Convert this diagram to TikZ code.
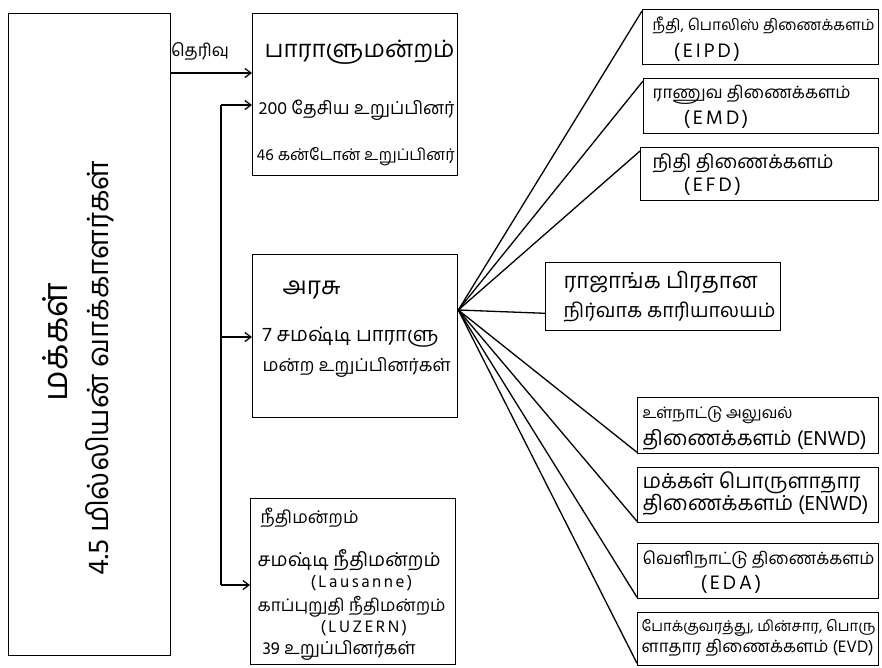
\documentclass[tikz,border=0pt]{standalone}
\usepackage{fontspec}
\setmainfont{Liberation Sans}
\newfontfamily\tam[Script=Tamil]{Hind Madurai}
\newfontfamily\tamcode[Script=Tamil,LetterSpace=15]{Hind Madurai}
\usetikzlibrary{arrows.meta}
% set text at the font size that gives it the wanted width (capped at #1)
\newcommand\tw[3][40]{\setbox0\hbox{\fontsize{10}{12}\selectfont #3}%
  \pgfmathsetmacro\fsz{min(#1,10*#2/\wd0)}%
  {\fontsize{\fsz}{\fsz}\selectfont #3}}
\begin{document}
\begin{tikzpicture}[x=1pt,y=-1pt, line width=1.3pt,
 box/.style={draw, rectangle, inner sep=0pt, anchor=north west},
 txt/.style={inner sep=0pt, anchor=west, font=\tam},
 code/.style={inner sep=0pt, anchor=west, font=\tamcode\fontsize{20}{20}\selectfont},
 codeb/.style={inner sep=0pt, anchor=west, font=\tamcode\fontsize{17}{17}\selectfont},
 btxt/.style={inner sep=0pt, rotate=90, font=\tam},
 arr/.style={-{Straight Barb[length=6pt,width=9pt]}},
]
\useasboundingbox (0,0) rectangle (882,667);
\fill[white] (0,0) rectangle (882,667);

% left box
\node[box, minimum width=162pt, minimum height=642pt] (people) at (8,13) {};
\node[btxt] (peopleA) at (55,342) {\tw{118}{மக்கள்}};
\node[btxt] (peopleB) at (100,368) {\tw{415}{4.5 மில்லியன் வாக்காளர்கள்}};

% middle boxes
\node[box, minimum width=205pt, minimum height=162pt] (parl) at (252,13) {};
\node[box, minimum width=205pt, minimum height=163pt] (gov) at (252,254) {};
\node[box, minimum width=205pt, minimum height=166pt] (court) at (250,498) {};

\node[txt] (parlA) at (264,52) {\tw{190}{பாராளுமன்றம்}};
\node[txt] (parlB) at (258,110) {\tw{196}{200 தேசிய உறுப்பினர்}};
\node[txt] (parlC) at (256,157) {\tw{198}{46 கன்டோன் உறுப்பினர்}};

\node[txt] (govA) at (282,290) {\tw{58}{அரசு}};
\node[txt] (govB) at (262,337) {\tw{176}{7 சமஷ்டி பாராளு}};
\node[txt] (govC) at (262,367) {\tw{188}{மன்ற உறுப்பினர்கள்}};

\node[txt] (courtA) at (260,518) {\tw{98}{நீதிமன்றம்}};
\node[txt] (courtB) at (257,560) {\tw{183}{சமஷ்டி நீதிமன்றம்}};
\node[codeb] (courtC) at (310,583) {(Lausanne)};
\node[txt] (courtD) at (257,607) {\tw{188}{காப்புறுதி நீதிமன்றம்}};
\node[codeb] (courtE) at (320,628) {(LUZERN)};
\node[txt] (courtF) at (262,650) {\tw{153}{39 உறுப்பினர்கள்}};

% right boxes
\node[box, minimum width=236pt, minimum height=55pt] (r1) at (642,9) {};
\node[box, minimum width=235pt, minimum height=55pt] (r2) at (643,78) {};
\node[box, minimum width=238pt, minimum height=53pt] (r3) at (640,147) {};
\node[box, minimum width=235pt, minimum height=68pt] (r4) at (545,262) {};
\node[box, minimum width=241pt, minimum height=56pt] (r5) at (637,397) {};
\node[box, minimum width=241pt, minimum height=55pt] (r6) at (637,467) {};
\node[box, minimum width=241pt, minimum height=55pt] (r7) at (637,543) {};
\node[box, minimum width=241pt, minimum height=53pt] (r8) at (637,612) {};

\node[txt] (r1A) at (652,25) {\tw{222}{நீதி, பொலிஸ் திணைக்களம்}};
\node[code] (r1B) at (673,52) {(EIPD)};
\node[txt] (r2A) at (652,95) {\tw{198}{ராணுவ திணைக்களம்}};
\node[code] (r2B) at (683,119) {(EMD)};
\node[txt] (r3A) at (652,163) {\tw{181}{நிதி திணைக்களம்}};
\node[code] (r3B) at (683,186) {(EFD)};
\node[txt] (r4A) at (563,282) {\tw{194}{ராஜாங்க பிரதான}};
\node[txt] (r4B) at (563,312) {\tw{212}{நிர்வாக காரியாலயம்}};
\node[txt] (r5A) at (642,415) {\tw{150}{உள்நாட்டு அலுவல்}};
\node[txt] (r5B) at (642,440) {\tw{224}{திணைக்களம் (ENWD)}};
\node[txt] (r6A) at (642,483) {\tw{218}{மக்கள் பொருளாதார}};
\node[txt] (r6B) at (642,505) {\tw{226}{திணைக்களம் (ENWD)}};
\node[txt] (r7A) at (642,560) {\tw{232}{வெளிநாட்டு திணைக்களம்}};
\node[code] (r7B) at (700,584) {(EDA)};
\node[txt] (r8A) at (641,628) {\tw{234}{போக்குவரத்து, மின்சார, பொரு}};
\node[txt] (r8B) at (641,648) {\tw{232}{ளாதார திணைக்களம் (EVD)}};

% election arrow
\coordinate (e1) at (people.east |- 0,73);
\draw[arr] (e1) -- (e1 -| parl.west);
\node[txt, anchor=center] (elect) at (200,52) {\tw{58}{தெரிவு}};

% bus
\coordinate (b1) at (221,105);
\coordinate (b2) at (221,337);
\coordinate (b3) at (221,585);
\draw (b1) -- (b3);
\draw[arr] (b1) -- (b1 -| parl.west);
\draw[arr] (b2) -- (b2 -| gov.west);
\draw[arr] (b3) -- (b3 -| court.west);

% fan
\coordinate (fan) at (gov.east |- 0,310);
\draw (fan) -- ([yshift=-2pt]r1.north west);
\draw (fan) -- ([yshift=-3pt]r2.north west);
\draw (fan) -- ([yshift=-4pt]r3.north west);
\draw (fan) -- ([yshift=18pt]r4.south west);
\draw (fan) -- ([yshift=2pt]r5.south west);
\draw (fan) -- ([yshift=2pt]r6.south west);
\draw (fan) -- ([yshift=2pt]r7.south west);
\draw (fan) -- ([yshift=3pt]r8.south west);
\end{tikzpicture}
\end{document}
